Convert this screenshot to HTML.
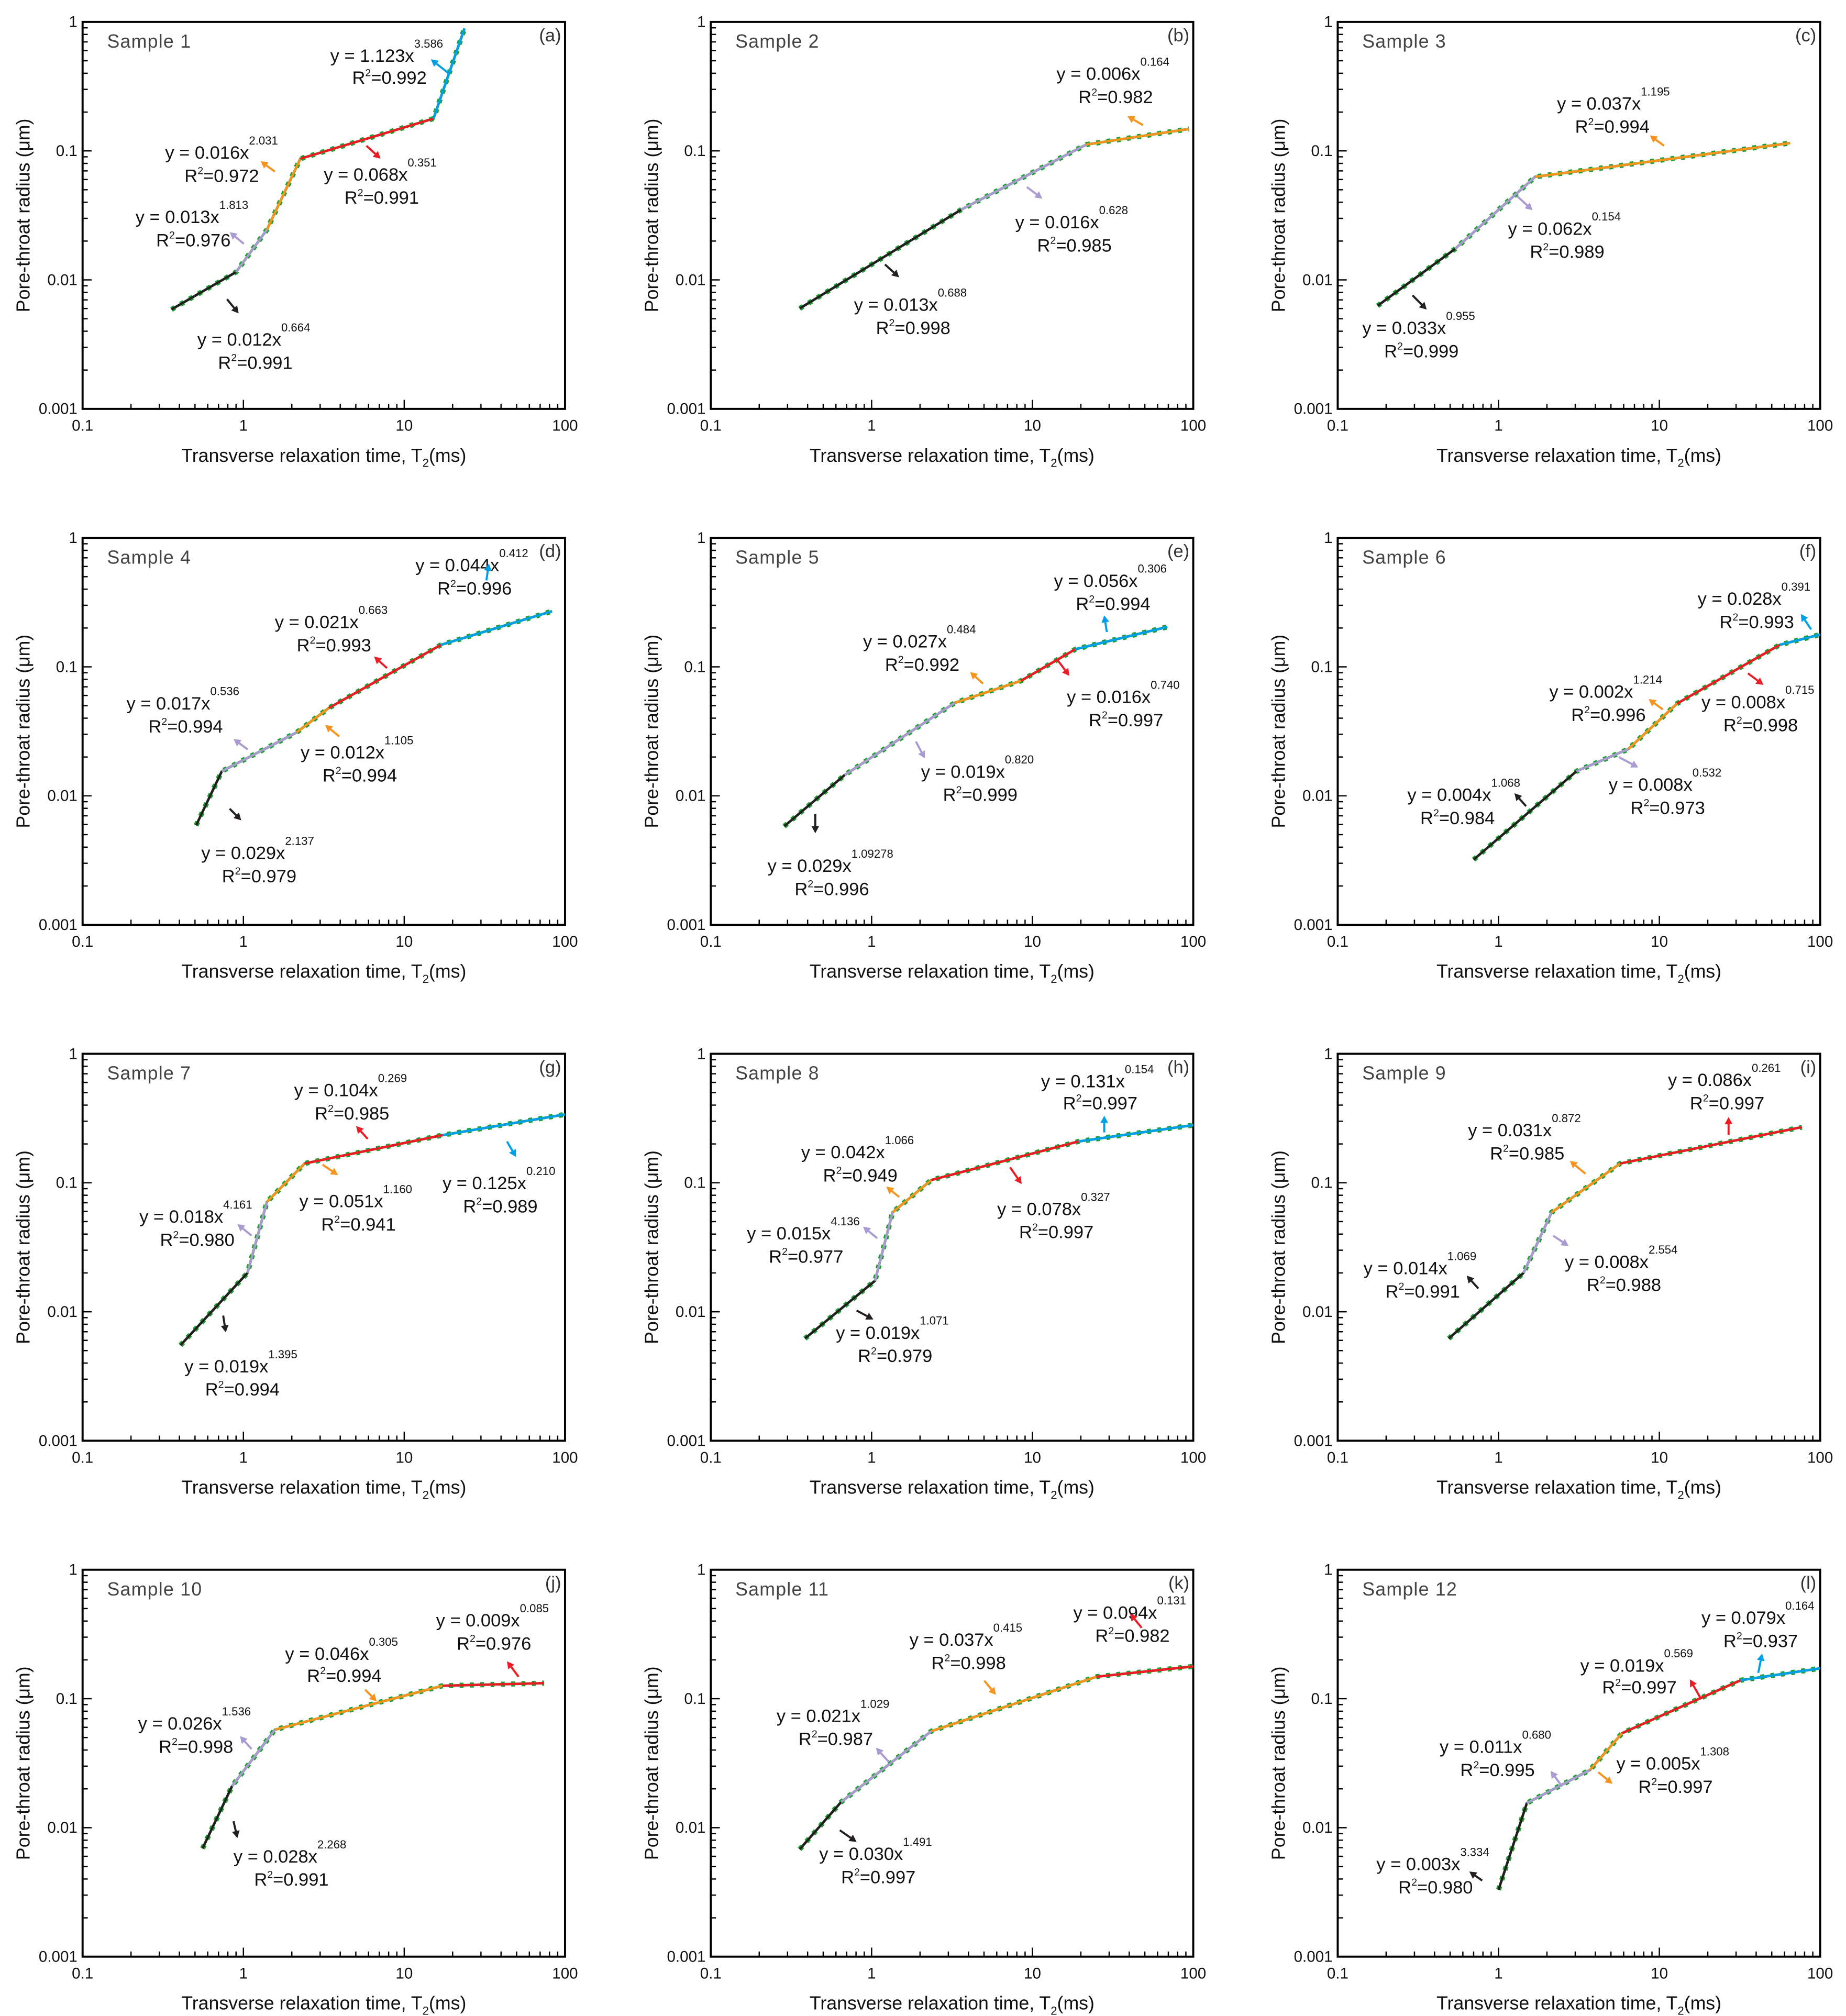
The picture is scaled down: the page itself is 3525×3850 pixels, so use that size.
<!DOCTYPE html>
<html><head><meta charset="utf-8"><style>
html,body{margin:0;padding:0;background:#fff;}
svg{display:block;}
text{font-family:"Liberation Sans",Arial,sans-serif;}
</style></head><body>
<svg id="fig" xmlns="http://www.w3.org/2000/svg" width="3525" height="3850" viewBox="0 0 1431 1563"></svg>
<script>
// Breakpoints of fitted piecewise power-law segments (T2 ms, radius µm)
const xA=[0.357,0.9,1.4,2.26,15.2,23.7];      const yA=[0.0059,0.0115,0.0245,0.087,0.178,0.89];
const xB=[0.357,3.6,21.6,94];                  const yB=[0.006,0.035,0.112,0.148];
const xC=[0.177,0.537,1.69,65];                const yC=[0.0063,0.0174,0.063,0.115];
const xD=[0.508,0.734,2.14,3.4,16.9,83];       const yD=[0.0059,0.0155,0.031,0.048,0.148,0.27];
const xE=[0.286,0.68,3.28,8.5,18.5,69];        const yE=[0.0058,0.0145,0.0525,0.078,0.137,0.204];
const xF=[0.7,3.05,6.4,12.9,56,100];           const yF=[0.0032,0.0155,0.023,0.052,0.148,0.178];
const xG=[0.406,1.06,1.40,2.4,17.3,100];       const yG=[0.0055,0.02,0.071,0.141,0.234,0.339];
const xH=[0.385,1.05,1.35,2.35,19.3,100];      const yH=[0.0062,0.0174,0.059,0.105,0.209,0.28];
const xI=[0.49,1.43,2.14,5.7,77];              const yI=[0.0062,0.02,0.059,0.141,0.27];
const xJ=[0.557,0.85,1.57,17.3,74];            const yJ=[0.0069,0.021,0.0575,0.126,0.132];
const xK=[0.357,0.646,2.35,25,100];            const yK=[0.0068,0.0158,0.056,0.148,0.178];
const xL=[1,1.5,3.7,5.86,32,100];              const yL=[0.0033,0.0155,0.028,0.054,0.139,0.172];
const xTicks=["0.1","1","10","100"];
const yTicks=["1","0.1","0.01","0.001"];

const C={k:'#231f20',p:'#a99bd0',o:'#f7941d',r:'#ed1c24',b:'#00a0e9'};
const cols=[64,551,1037], rows=[17,417,817,1217], W=374, H=300;
const panels=[
 {id:'a',s:'Sample 1',c:0,r:0,x:xA,y:yA,seg:'kporb',ann:[
  [256,43,'1.123','3.586',273,60,'0.992',348,57,334,46,'b'],
  [128,118,'0.016','2.031',143,136,'0.972',213,133,202,125,'o'],
  [251,135,'0.068','0.351',267,153,'0.991',284,113,295,123,'r'],
  [105,168,'0.013','1.813',121,186,'0.976',189,189,178,180,'p'],
  [153,263,'0.012','0.664',169,281,'0.991',176,232,185,243,'k']]},
 {id:'b',s:'Sample 2',c:1,r:0,x:xB,y:yB,seg:'kpo',ann:[
  [819,57,'0.006','0.164',836,75,'0.982',886,97,874,90,'o'],
  [787,172,'0.016','0.628',804,190,'0.985',796,145,808,154,'p'],
  [662,236,'0.013','0.688',679,254,'0.998',686,205,697,215,'k']]},
 {id:'c',s:'Sample 3',c:2,r:0,x:xC,y:yC,seg:'kpo',ann:[
  [1207,80,'0.037','1.195',1221,98,'0.994',1290,113,1279,105,'o'],
  [1169,177,'0.062','0.154',1186,195,'0.989',1176,152,1188,163,'p'],
  [1056,254,'0.033','0.955',1073,272,'0.999',1095,229,1106,240,'k']]},
 {id:'d',s:'Sample 4',c:0,r:1,x:xD,y:yD,seg:'kporb',ann:[
  [322,438,'0.044','0.412',339,456,'0.996',377,450,379,437,'b'],
  [213,482,'0.021','0.663',230,500,'0.993',300,518,290,509,'r'],
  [98,545,'0.017','0.536',115,563,'0.994',192,581,181,573,'p'],
  [233,583,'0.012','1.105',250,601,'0.994',263,571,252,562,'o'],
  [156,661,'0.029','2.137',172,679,'0.979',178,627,187,636,'k']]},
 {id:'e',s:'Sample 5',c:1,r:1,x:xE,y:yE,seg:'kporb',ann:[
  [817,450,'0.056','0.306',834,468,'0.994',858,490,856,477,'b'],
  [669,497,'0.027','0.484',686,515,'0.992',762,530,752,521,'o'],
  [827,540,'0.016','0.740',844,558,'0.997',820,512,829,524,'r'],
  [714,598,'0.019','0.820',731,616,'0.999',710,575,717,588,'p'],
  [595,671,'0.029','1.09278',616,689,'0.996',632,631,632,646,'k']]},
 {id:'f',s:'Sample 6',c:2,r:1,x:xF,y:yF,seg:'kporb',ann:[
  [1316,464,'0.028','0.391',1333,482,'0.993',1404,488,1396,476,'b'],
  [1201,536,'0.002','1.214',1218,554,'0.996',1289,550,1278,542,'o'],
  [1319,544,'0.008','0.715',1336,562,'0.998',1355,522,1367,531,'r'],
  [1247,608,'0.008','0.532',1264,626,'0.973',1255,587,1270,595,'p'],
  [1091,616,'0.004','1.068',1101,634,'0.984',1183,625,1174,615,'k']]},
 {id:'g',s:'Sample 7',c:0,r:2,x:xG,y:yG,seg:'kporb',ann:[
  [228,845,'0.104','0.269',244,863,'0.985',285,883,276,873,'r'],
  [343,917,'0.125','0.210',359,935,'0.989',393,885,400,897,'b'],
  [108,943,'0.018','4.161',124,961,'0.980',195,958,184,949,'p'],
  [232,931,'0.051','1.160',249,949,'0.941',250,903,262,911,'o'],
  [143,1059,'0.019','1.395',159,1077,'0.994',173,1020,175,1033,'k']]},
 {id:'h',s:'Sample 8',c:1,r:2,x:xH,y:yH,seg:'kporb',ann:[
  [807,838,'0.131','0.154',824,855,'0.997',856,878,856,865,'b'],
  [621,893,'0.042','1.066',638,911,'0.949',697,928,687,920,'o'],
  [773,937,'0.078','0.327',790,955,'0.997',783,905,792,918,'r'],
  [579,956,'0.015','4.136',596,974,'0.977',680,960,669,951,'p'],
  [648,1033,'0.019','1.071',665,1051,'0.979',664,1016,677,1023,'k']]},
 {id:'i',s:'Sample 9',c:2,r:2,x:xI,y:yI,seg:'kpor',ann:[
  [1293,837,'0.086','0.261',1310,855,'0.997',1340,880,1340,866,'r'],
  [1138,876,'0.031','0.872',1155,894,'0.985',1229,910,1217,900,'o'],
  [1213,978,'0.008','2.554',1230,996,'0.988',1204,958,1216,966,'p'],
  [1057,983,'0.014','1.069',1074,1001,'0.991',1146,999,1137,989,'k']]},
 {id:'j',s:'Sample 10',c:0,r:3,x:xJ,y:yJ,seg:'kpor',ann:[
  [338,1256,'0.009','0.085',354,1274,'0.976',402,1300,393,1288,'r'],
  [221,1282,'0.046','0.305',238,1299,'0.994',283,1310,292,1319,'o'],
  [107,1336,'0.026','1.536',123,1354,'0.998',195,1356,186,1346,'p'],
  [181,1439,'0.028','2.268',197,1457,'0.991',181,1412,184,1425,'k']]},
 {id:'k',s:'Sample 11',c:1,r:3,x:xK,y:yK,seg:'kpor',ann:[
  [832,1250,'0.094','0.131',849,1268,'0.982',885,1262,876,1251,'r'],
  [705,1271,'0.037','0.415',722,1289,'0.998',763,1303,772,1314,'o'],
  [602,1330,'0.021','1.029',619,1348,'0.987',689,1366,679,1355,'p'],
  [635,1437,'0.030','1.491',652,1455,'0.997',651,1419,664,1428,'k']]},
 {id:'l',s:'Sample 12',c:2,r:3,x:xL,y:yL,seg:'kporb',ann:[
  [1319,1254,'0.079','0.164',1336,1272,'0.937',1363,1297,1366,1282,'b'],
  [1225,1291,'0.019','0.569',1242,1308,'0.997',1318,1316,1310,1302,'r'],
  [1116,1354,'0.011','0.680',1132,1372,'0.995',1211,1385,1202,1373,'p'],
  [1253,1367,'0.005','1.308',1270,1385,'0.997',1239,1374,1250,1383,'o'],
  [1067,1445,'0.003','3.334',1084,1463,'0.980',1149,1458,1139,1451,'k']]}
];
const NS='http://www.w3.org/2000/svg';
const svg=document.getElementById('fig');
function el(t,a,p){const e=document.createElementNS(NS,t);for(const k in a)e.setAttribute(k,a[k]);(p||svg).appendChild(e);return e;}
panels.forEach(P=>{
  const L=cols[P.c],T=rows[P.r];
  const g=el('g',{});
  
  
  const sx=v=>L+(Math.log10(v)+1)/3*W;
  const sy=v=>T-Math.log10(v)/3*H;
  for(let d=0;d<3;d++){for(let m=1;m<10;m++){
    const v=Math.pow(10,d-1)*m; const len=m===1?7:4;
    if(m>1||d>0){el('line',{x1:sx(v),x2:sx(v),y1:T+H,y2:T+H-len,stroke:'#000','stroke-width':1},g);}
    const vy=Math.pow(10,-3+d)*m;
    if(m>1||d>0){el('line',{x1:L,x2:L+len,y1:sy(vy),y2:sy(vy),stroke:'#000','stroke-width':1},g);}
  }}
  const fr=el('rect',{x:L,y:T,width:W,height:H,fill:'none',stroke:'#000','stroke-width':1.6},g);
  
  
  xTicks.forEach((t,i)=>{const e=el('text',{x:L+i*W/3,y:T+H+17,'font-size':12,'text-anchor':'middle',fill:'#111'},g);e.textContent=t;
    
    });
  yTicks.forEach((t,i)=>{const e=el('text',{x:L-4,y:T+i*H/3+4,'font-size':12,'text-anchor':'end',fill:'#111'},g);e.textContent=t;
    
    });
  const xt=el('text',{x:L+W/2,y:T+H+41,'font-size':14.5,'text-anchor':'middle',fill:'#111'},g);
  xt.innerHTML='Transverse relaxation time, T<tspan font-size="9" dy="4">2</tspan><tspan dy="-4">(ms)</tspan>';
  
  
  const yt=el('text',{x:0,y:0,'font-size':14.5,'text-anchor':'middle',fill:'#111',transform:`translate(${L-41},${T+H/2}) rotate(-90)`},g);
  yt.textContent='Pore-throat radius (μm)';
  
  
  const st=el('text',{x:L+19,y:T+20,'font-size':14.5,fill:'#444','letter-spacing':0.5},g);st.textContent=P.s;
  
  
  const pl=el('text',{x:L+W-3,y:T+15,'font-size':14,'text-anchor':'end',fill:'#333'},g);pl.textContent='('+P.id+')';
  
  
  const pts=P.x.map((v,i)=>sx(v)+','+sy(P.y[i])).join(' ');
  const gl=el('polyline',{points:pts,fill:'none',stroke:'#1a8a2a','stroke-width':2},g);
  
  
  const gm=el('polyline',{points:pts,fill:'none',stroke:'#1fa032','stroke-width':4,'stroke-dasharray':'3 5'},g);
  
  
  for(let i=0;i<P.x.length-1;i++){
    const s=el('line',{x1:sx(P.x[i]),y1:sy(P.y[i]),x2:sx(P.x[i+1]),y2:sy(P.y[i+1]),stroke:C[P.seg[i]],'stroke-width':1.8},g);
    
    
  }
  P.ann.forEach(a=>{
    const [tx,ty,co,ex,rx,ry,r2,x1,y1,x2,y2,cc]=a;
    const t1=el('text',{x:tx,y:ty+5,'font-size':14,fill:'#111'},g);
    t1.innerHTML=`y = ${co}x<tspan font-size="9" dy="-11">${ex}</tspan>`;
    
    
    const t2=el('text',{x:rx,y:ry+5,'font-size':14,fill:'#111'},g);
    t2.innerHTML=`R<tspan font-size="8" dy="-6">2</tspan><tspan dy="6">=${r2}</tspan>`;
    
    
    const dx=x2-x1,dy=y2-y1,l=Math.hypot(dx,dy),ux=dx/l,uy=dy/l,h=5.5,w=3;
    const bx=x2-ux*h,by=y2-uy*h;
    const ar=el('g',{},g);
    
    
    el('line',{x1:x1,y1:y1,x2:bx,y2:by,stroke:C[cc],'stroke-width':1.6},ar);
    el('polygon',{points:`${x2},${y2} ${bx-uy*w},${by+ux*w} ${bx+uy*w},${by-ux*w}`,fill:C[cc]},ar);
  });
});
</script>
</body></html>
